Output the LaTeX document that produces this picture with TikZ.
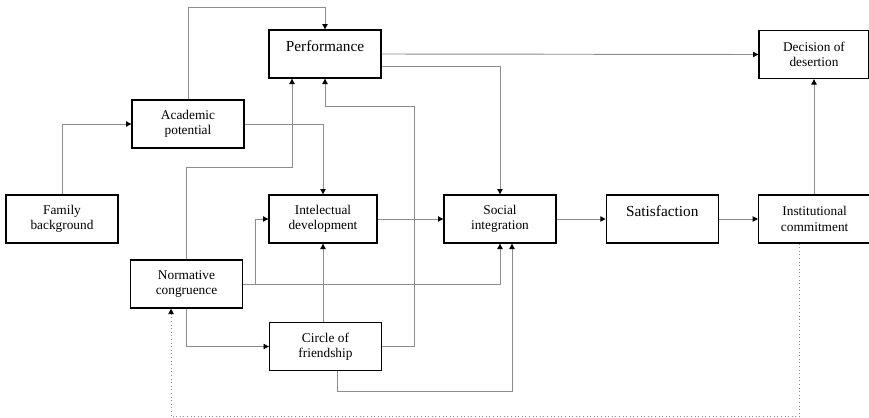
\documentclass[tikz,border=0pt]{standalone}
\usepackage{fontspec}
\setmainfont{Liberation Serif}
\usetikzlibrary{positioning,arrows.meta}
\definecolor{lgray}{HTML}{8C8C8C}

\begin{document}
\begin{tikzpicture}[x=0.75pt, y=-0.75pt, font=\fontsize{10}{11.5}\selectfont,
  fac/.style={draw, line width=1pt, align=center, inner sep=0pt, minimum width=84pt, minimum height=36pt},
  big/.style={fac, font=\fontsize{11.5}{13}\selectfont, text depth=12pt},
  lnk/.style={draw=lgray, line width=0.7pt, -{Triangle[length=4pt, width=4pt, color=black]}}]
\useasboundingbox (0,0) rectangle (869,418);
% left column
\node[fac] (fam) at (62,219) {Family\\background};
\node[fac] (acad) at (188,124) {Academic\\potential};
\node[fac] (norm) at (186.5,284) {Normative\\congruence};
% middle column
\node[big] (perf) at (325,54) {Performance};
\node[fac, minimum width=81pt] (intel) at (323,219) {Intelectual\\development};
\node[fac] (circ) at (325.5,346.5) {Circle of\\friendship};
% right row
\node[fac] (soc) at (500,219) {Social\\integration};
\node[big, right=36.75pt of soc] (sat) {Satisfaction};
\node[fac, right=29.25pt of sat] (inst) {Institutional\\commitment};
\node[fac, minimum width=82.5pt] (dec) at (814,54.5) {Decision of\\desertion};
% links
\draw[lnk] (fam.north) |- (acad.west);
\draw[lnk] (acad.north) -- ++(0,-92) -| (perf.north);
\draw[lnk] (acad.east) -| (intel.north);
\draw[lnk] (norm.north) -- ++(0,-92) -| ([xshift=-24.75pt]perf.south);
\draw[lnk] (circ.east) -| (414,106) -| (perf.south);
\draw[lnk] (perf.east) -- (dec.west);
\draw[lnk] ([yshift=-9pt]perf.east) -| (soc.north);
\draw[lnk] (norm.east) -- ++(12,0) |- (intel.west);
\draw[lnk] (norm.east) -| (soc.south);
\draw[lnk] (intel.east) -- (soc.west);
\draw[lnk] (intel.south |- circ.north) -- (intel.south);
\draw[lnk] (norm.south) |- (circ.west);
\draw[lnk] ([xshift=8.6pt]circ.south) -- ++(0,20) -| ([xshift=9pt]soc.south);
\draw[lnk] (soc.east) -- (sat.west);
\draw[lnk] (sat.east) -- (inst.west);
\draw[lnk] (dec.south |- inst.north) -- (dec.south);
% feedback
\draw[lnk, dotted] ([xshift=-11.25pt]inst.south) -- ++(0,173) -| ([xshift=-11.6pt]norm.south);
\end{tikzpicture}
\end{document}
